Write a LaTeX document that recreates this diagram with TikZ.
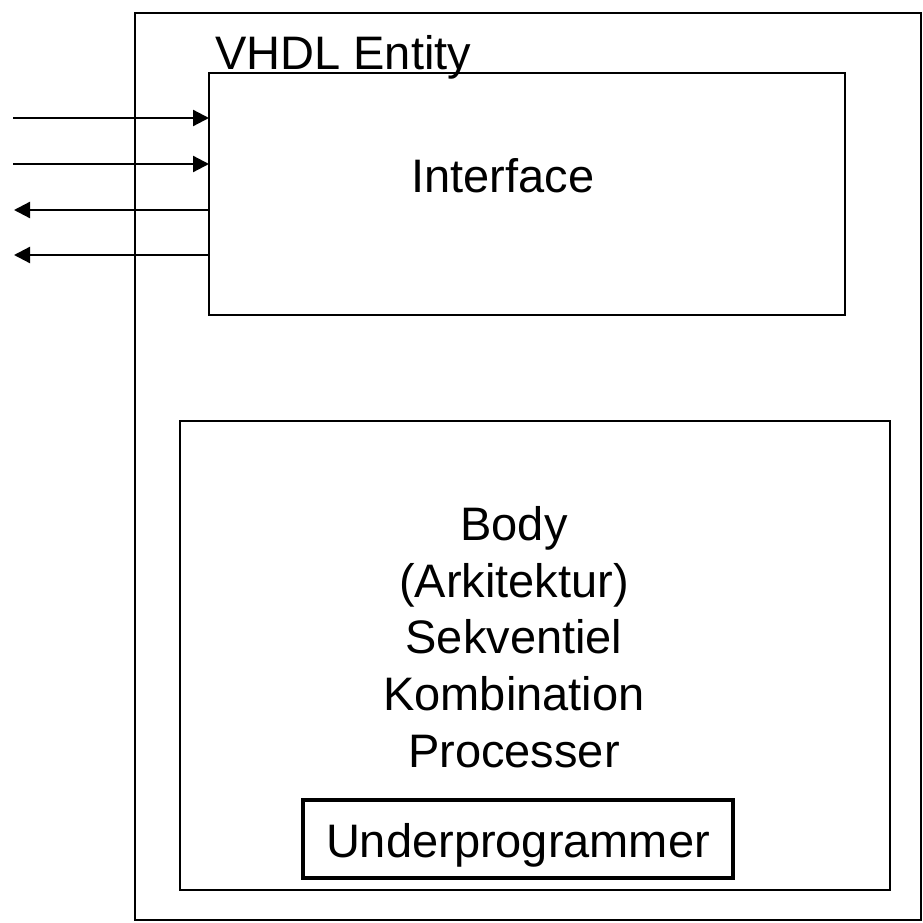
\documentclass[tikz,border=0pt]{standalone}
\usepackage{fontspec}
\setmainfont{Liberation Sans}
\usetikzlibrary{arrows.meta}
\begin{document}
\begin{tikzpicture}[x=1pt,y=-1pt,
  box/.style={draw=black, line width=2pt, inner sep=0pt, outer sep=0pt, anchor=north west},
  lbl/.style={font=\fontsize{47}{56}\selectfont, inner sep=0pt, anchor=base},
  sig/.style={line width=2.3pt, -{Triangle[length=16pt,width=16pt]}}]
  \useasboundingbox (0,0) rectangle (923,923);

  % entity frame, interface and body blocks
  \node[box, minimum width=786pt, minimum height=907pt] (entity) at (135,13) {};
  \node[box, minimum width=636pt, minimum height=242pt, fill=white] (iface) at (209,73) {};
  \node[box, line width=2.5pt, minimum width=710pt, minimum height=469pt] (body) at (180,421) {};
  \node[box, line width=4pt, minimum width=430pt, minimum height=78pt] (sub) at (303,800) {};

  % labels
  \node[lbl, anchor=base west] (entname) at (215,70) {VHDL Entity};
  \node[lbl] (ifname) at (503,192) {Interface};
  \node[lbl] (b1) at (514,540) {Body};
  \node[lbl] (b2) at (514,597) {(Arkitektur)};
  \node[lbl] (b3) at (514,653) {Sekventiel};
  \node[lbl] (b4) at (514,710) {Kombination};
  \node[lbl] (b5) at (514,767) {Processer};
  \node[lbl] (subname) at (518,857) {Underprogrammer};

  % ports
  \coordinate (in1) at (13,118);
  \coordinate (in2) at (13,164);
  \coordinate (out1) at (14,210);
  \coordinate (out2) at (14,255);
  \draw[sig] (in1) -- (in1 -| iface.west);
  \draw[sig] (in2) -- (in2 -| iface.west);
  \draw[sig] (out1 -| iface.west) -- (out1);
  \draw[sig] (out2 -| iface.west) -- (out2);
\end{tikzpicture}
\end{document}
